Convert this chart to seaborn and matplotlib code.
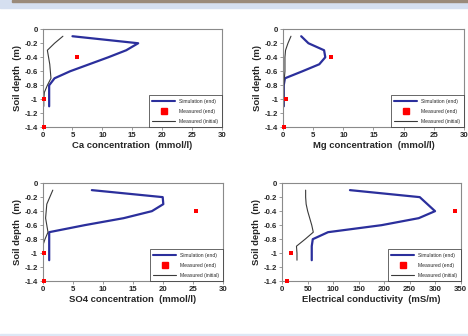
import seaborn as sns
import pandas as pd
import numpy as np
import matplotlib.pyplot as plt
from matplotlib.lines import Line2D
from matplotlib.patches import Rectangle

# depths (m) of the simulated / initial profiles
sim_depth = [-0.1, -0.2, -0.3, -0.4, -0.5, -0.6, -0.7, -0.8, -0.9, -1.0, -1.1]
meas_depth = [-0.4, -1.0, -1.4]

ca_sim = [5.0, 16.0, 14.0, 11.0, 7.8, 4.6, 2.0, 1.1, 1.1, 1.1, 1.1]
ca_init = [3.4, 2.0, 0.8, 1.0, 1.2, 1.3, 1.4, 0.8, 0.3, 0.2, 0.2]
ca_meas = [5.7, 0.2, 0.2]

mg_sim = [3.0, 4.2, 6.8, 7.0, 6.0, 3.2, 0.3, 0.1, 0.1, 0.1, 0.1]
mg_init = [1.3, 0.8, 0.4, 0.3, 0.3, 0.3, 0.2, 0.1, 0.1, 0.1, 0.1]
mg_meas = [8.0, 0.4, 0.2]

so4_sim = [8.2, 20.0, 20.1, 18.2, 13.5, 7.0, 1.1, 1.1, 1.1, 1.1, 1.1]
so4_init = [1.7, 1.2, 0.7, 0.6, 0.5, 0.7, 0.9, 0.4, 0.0, 0.1, 0.1]
so4_meas = [25.5, 0.2, 0.2]

ec_sim = [133, 270, 285, 300, 268, 195, 90, 60, 58, 58, 58]
ec_init = [46, 46, 47, 50, 54, 58, 61, 45, 28, 29, 29]
ec_meas = [339, 17, 10]

panels = [
    ("Ca concentration  (mmol/l)", ca_sim, ca_init, ca_meas, 30, 5),
    ("Mg concentration  (mmol/l)", mg_sim, mg_init, mg_meas, 30, 5),
    ("SO4 concentration  (mmol/l)", so4_sim, so4_init, so4_meas, 30, 5),
    ("Electrical conductivity  (mS/m)", ec_sim, ec_init, ec_meas, 350, 50),
]

# axes boxes in figure fractions [left, bottom, width, height]
boxes = [
    [0.091, 0.621, 0.383, 0.292],
    [0.605, 0.621, 0.386, 0.292],
    [0.091, 0.163, 0.385, 0.292],
    [0.603, 0.163, 0.381, 0.292],
]

sim_color = '#2b2f9c'
init_color = '#3a3a3a'
meas_color = '#ff0000'
frame_color = '#8a8a8a'

sns.set_style("white")
plt.rcParams['font.family'] = ['Liberation Sans', 'DejaVu Sans']

fig = plt.figure(figsize=(4.68, 3.36), dpi=100)

# slide decoration strips
fig.patches.append(Rectangle((0, 1 - 8 / 336), 1, 8 / 336, transform=fig.transFigure,
                             color='#d5dff0', zorder=0))
fig.patches.append(Rectangle((12 / 468, 1 - 2 / 336), 1, 2 / 336, transform=fig.transFigure,
                             color='#9a8a7a', zorder=1))
fig.patches.append(Rectangle((0, 0), 1, 2.5 / 336, transform=fig.transFigure,
                             color='#dde7f5', zorder=0))


def fmt_depth(v, _):
    if abs(v) < 1e-9:
        return "0"
    return f"{v:g}"


for (xlabel, sim, init, meas, xmax, xstep), box in zip(panels, boxes):
    ax = fig.add_axes(box)
    df_sim = pd.DataFrame({'value': sim, 'depth': sim_depth})
    df_init = pd.DataFrame({'value': init, 'depth': sim_depth})
    df_meas = pd.DataFrame({'value': meas, 'depth': meas_depth})

    sns.lineplot(data=df_sim, x='value', y='depth', sort=False, estimator=None,
                 color=sim_color, linewidth=1.6, ax=ax)
    sns.lineplot(data=df_init, x='value', y='depth', sort=False, estimator=None,
                 color=init_color, linewidth=0.8, ax=ax)
    sns.scatterplot(data=df_meas, x='value', y='depth', marker='s', color=meas_color,
                    s=10, linewidth=0, ax=ax, zorder=5, clip_on=False)

    ax.set_xlim(0, xmax)
    ax.set_ylim(-1.4, 0)
    ax.set_xticks(np.arange(0, xmax + 1, xstep))
    ax.set_yticks(np.arange(-1.4, 0.01, 0.2))
    ax.yaxis.set_major_formatter(fmt_depth)
    ax.tick_params(axis='both', labelsize=5.6, length=2, width=0.6, color=frame_color,
                   direction='out', pad=1.5, left=True, bottom=True)
    for lbl in ax.get_xticklabels() + ax.get_yticklabels():
        lbl.set_fontweight('bold')
    for s in ax.spines.values():
        s.set_color(frame_color)
        s.set_linewidth(0.8)

    ax.set_xlabel(xlabel, fontsize=6.8, fontweight='bold', labelpad=1.5)
    ax.set_ylabel("Soil depth  (m)", fontsize=6.8, fontweight='bold', labelpad=2.0)

    handles = [
        Line2D([], [], color=sim_color, linewidth=1.5),
        Line2D([], [], color=meas_color, marker='s', linestyle='none', markersize=5),
        Line2D([], [], color=init_color, linewidth=0.8),
    ]
    leg = ax.legend(handles, ["Simulation (end)", "Measured (end)", "Measured (initial)"],
                    loc='lower right', fontsize=3.6, frameon=True, fancybox=False,
                    borderaxespad=0, handlelength=4.6, borderpad=0.7, labelspacing=1.0,
                    handletextpad=0.8)
    leg.get_frame().set_edgecolor('#222222')
    leg.get_frame().set_linewidth(0.6)

plt.savefig("out.png", dpi=100)
